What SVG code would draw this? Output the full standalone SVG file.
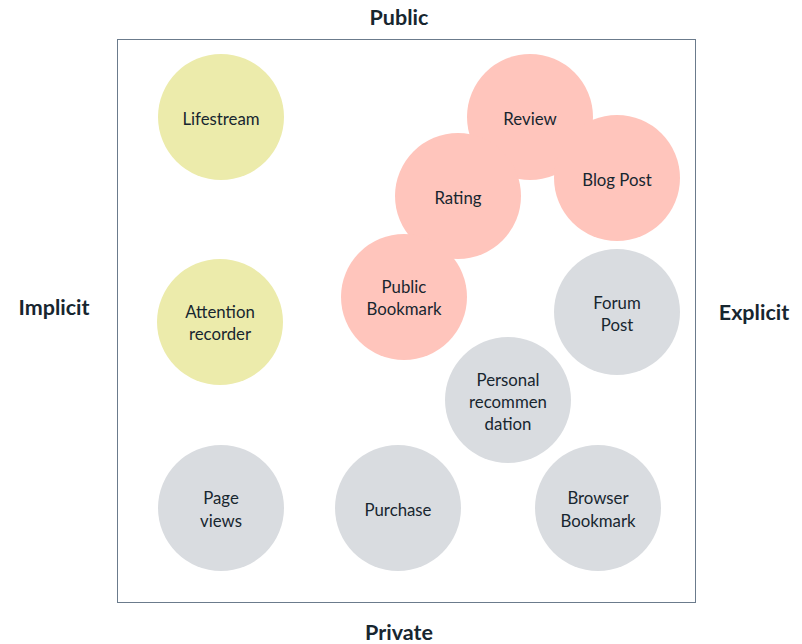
<svg xmlns="http://www.w3.org/2000/svg" width="802" height="644" viewBox="0 0 802 644">
<style>
text{font-family:Lato,"Open Sans","Liberation Sans",sans-serif;fill:#17262f;text-anchor:middle;dominant-baseline:central}
.lbl{font-size:16.8px}
.axis{font-size:21.5px;font-weight:bold}
.y{fill:#ecebab}
.p{fill:#ffc5bc}
.g{fill:#d9dce0}
</style>
<rect x="0" y="0" width="802" height="644" fill="#ffffff"/>
<rect id="frame" x="117.5" y="39.5" width="578" height="563" fill="none" stroke="#6b7b8c" stroke-width="1"/>
<text class="axis" x="399" y="17">Public</text>
<text class="axis" x="399" y="632">Private</text>
<text class="axis" x="54" y="307">Implicit</text>
<text class="axis" x="754" y="312">Explicit</text>
<g id="connectors"></g>
<g id="lifestream"><circle class="y" cx="221" cy="117" r="63"/><text class="lbl" x="221" y="118">Lifestream</text></g>
<g id="attention"><circle class="y" cx="220" cy="322" r="63"/><text class="lbl" x="220" y="311">Attention</text><text class="lbl" x="220" y="333">recorder</text></g>
<g id="pageviews"><circle class="g" cx="221" cy="508" r="63"/><text class="lbl" x="221" y="497">Page</text><text class="lbl" x="221" y="520">views</text></g>
<g id="purchase"><circle class="g" cx="398" cy="508" r="63"/><text class="lbl" x="398" y="509">Purchase</text></g>
<g id="browserbookmark"><circle class="g" cx="598" cy="508" r="63"/><text class="lbl" x="598" y="497">Browser</text><text class="lbl" x="598" y="520">Bookmark</text></g>
<g id="personal"><circle class="g" cx="508" cy="400" r="63"/><text class="lbl" x="508" y="379">Personal</text><text class="lbl" x="508" y="401">recommen</text><text class="lbl" x="508" y="423">dation</text></g>
<g id="forumpost"><circle class="g" cx="617" cy="312" r="63"/><text class="lbl" x="617" y="302">Forum</text><text class="lbl" x="617" y="324">Post</text></g>
<g id="review"><circle class="p" cx="530" cy="117" r="63"/><text class="lbl" x="530" y="118">Review</text></g>
<g id="blogpost"><circle class="p" cx="617" cy="178" r="63"/><text class="lbl" x="617" y="179">Blog Post</text></g>
<g id="rating"><circle class="p" cx="458" cy="196" r="63"/><text class="lbl" x="458" y="197">Rating</text></g>
<g id="publicbookmark"><circle class="p" cx="404" cy="297" r="63"/><text class="lbl" x="404" y="286">Public</text><text class="lbl" x="404" y="308">Bookmark</text></g>
</svg>
